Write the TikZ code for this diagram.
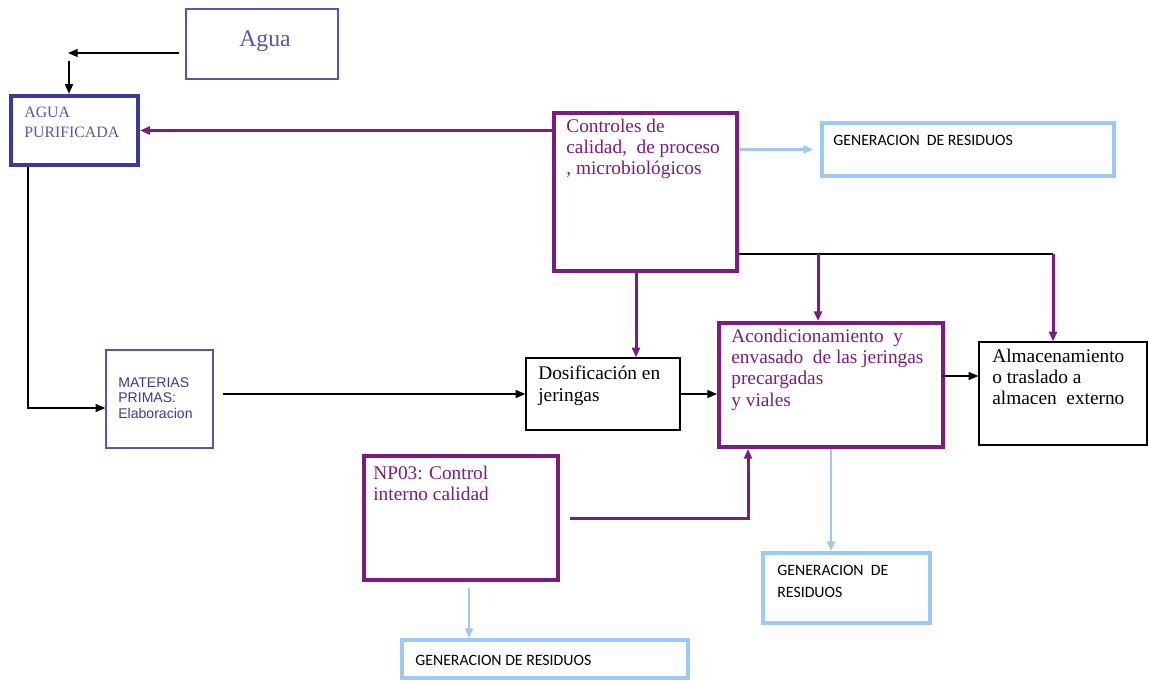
\documentclass[tikz,border=0pt]{standalone}
\usepackage{fontspec}
\setmainfont{Liberation Serif}
\newfontfamily\arialfont{Liberation Sans}
\newfontfamily\calibrifont{Carlito}
\usetikzlibrary{arrows.meta,fit,calc}
\definecolor{FlowPurple}{HTML}{7B1C80}
\definecolor{WaterBlue}{HTML}{3A3A9C}
\definecolor{SlateBlue}{HTML}{5656B2}
\definecolor{WasteBlue}{HTML}{9CC9F5}

\begin{document}
\begin{tikzpicture}[
  x=0.02cm, y=-0.02cm,
  thinbox/.style={draw=SlateBlue, line width=0.8pt, inner sep=0pt},
  blackbox/.style={draw=black, line width=0.7pt, inner sep=0pt},
  purplebox/.style={draw=FlowPurple, line width=2.2pt, inner sep=0pt},
  waterbox/.style={draw=WaterBlue, line width=2.4pt, inner sep=0pt},
  wastebox/.style={draw=WasteBlue, line width=2.2pt, inner sep=0pt},
  txt/.style={anchor=north west, align=left, inner sep=0pt},
  serif/.style={font=\fontsize{11}{12}\selectfont},
  waste/.style={font=\calibrifont\fontsize{9}{12.5}\selectfont},
  flow/.style={-{Triangle[length=5.5pt,width=4.5pt]}, line width=0.9pt, black},
  pflow/.style={-{Triangle[length=5.5pt,width=4.5pt]}, line width=1.7pt, FlowPurple},
  bflow/.style={-{Triangle[length=5.5pt,width=4.5pt]}, line width=1.5pt, WasteBlue}
]
\useasboundingbox (0,0) rectangle (1149,680);

% boxes
\node[thinbox, fit={(186,9) (338,79)}] (agua) {};
\node[waterbox, fit={(11,96) (138,165)}] (aguapur) {};
\node[purplebox, fit={(554,113) (737,271)}] (ctrl) {};
\node[wastebox, fit={(822,123) (1114,176)}] (gen1) {};
\node[thinbox, fit={(106,350) (213,448)}] (materias) {};
\node[blackbox, fit={(526,358) (680,430)}] (dosif) {};
\node[purplebox, fit={(719,323) (943,447)}] (acond) {};
\node[blackbox, fit={(979,342) (1147,445)}] (almac) {};
\node[purplebox, fit={(364,456) (558,580)}] (np03) {};
\node[wastebox, fit={(763,553) (930,623)}] (gen2) {};
\node[wastebox, fit={(402,640) (688,678)}] (gen3) {};

% texts
\node[txt, text=SlateBlue, font=\fontsize{13.5}{15}\selectfont] (aguat) at (239,30) {Agua};
\node[txt, text=SlateBlue, font=\fontsize{9}{11}\selectfont] (aguapurt) at (24,107) {AGUA\\PURIFICADA};
\node[txt, serif, text=FlowPurple] (ctrlt) at (566,119) {Controles de\\calidad,\ \ de proceso\\, microbiológicos};
\node[txt, waste] (gen1t) at (833,135) {GENERACION\ \ DE RESIDUOS};
\node[txt, text=WaterBlue, font=\arialfont\fontsize{8}{9}\selectfont] (materiast) at (118,377) {MATERIAS\\PRIMAS:\\Elaboracion};
\node[txt, serif] (dosift) at (538,366) {Dosificación en\\jeringas};
\node[txt, serif, text=FlowPurple] (acondt) at (731,329) {Acondicionamiento\ \ y\\envasado\ \ de las jeringas\\precargadas\\y viales};
\node[txt, serif] (almact) at (992,349) {Almacenamiento\\o traslado a\\almacen\ \ externo};
\node[txt, serif, text=FlowPurple] (np03t) at (373,466) {NP03: Control\\interno calidad};
\node[txt, waste] (gen2t) at (777,565) {GENERACION\ \ DE\\RESIDUOS};
\node[txt, waste] (gen3t) at (415,655) {GENERACION DE RESIDUOS};

% connectors
\coordinate (aguaturn) at (68,53);
\coordinate (aguadrop) at (69,61);
\coordinate (jA) at (818,254);
\coordinate (jB) at (1053,254);
\coordinate (jC) at (28,408);
\coordinate (jD) at (748,518);
\coordinate (ctrlout) at (636,271);
\coordinate (acondout) at (943,376);
\coordinate (np03out) at (469,588);

\draw[flow] ($(agua.west |- aguaturn)+(-6,0)$) -- (aguaturn);
\draw[flow] (aguadrop) -- (aguadrop |- aguapur.north);
\draw[pflow] (ctrl.west |- aguapur.east) -- (aguapur.east);
\draw[bflow] (ctrl.east |- gen1.west) -- ($(gen1.west)+(-7,0)$);
\draw[pflow] (ctrlout) -- (ctrlout |- dosif.north);
\draw[line width=1pt] (ctrl.east |- jA) -- (jB);
\draw[pflow] (jA) -- (jA |- acond.north);
\draw[pflow] (jB) -- (jB |- almac.north);
\draw[flow] (aguapur.south -| jC) -- (jC) -- (materias.west |- jC);
\draw[flow] ($(materias.east |- dosif.west)+(9,0)$) -- (dosif.west);
\draw[flow] (dosif.east) -- (acond.west |- dosif.east);
\draw[flow] (acondout) -- (acondout -| almac.west);
\draw[pflow] ($(np03.east)+(10,0)$) -- (jD) -- (jD |- acond.south);
\draw[bflow] (acond.south) -- (acond.south |- gen2.north);
\draw[bflow] (np03out) -- (np03out |- gen3.north);
\end{tikzpicture}
\end{document}
